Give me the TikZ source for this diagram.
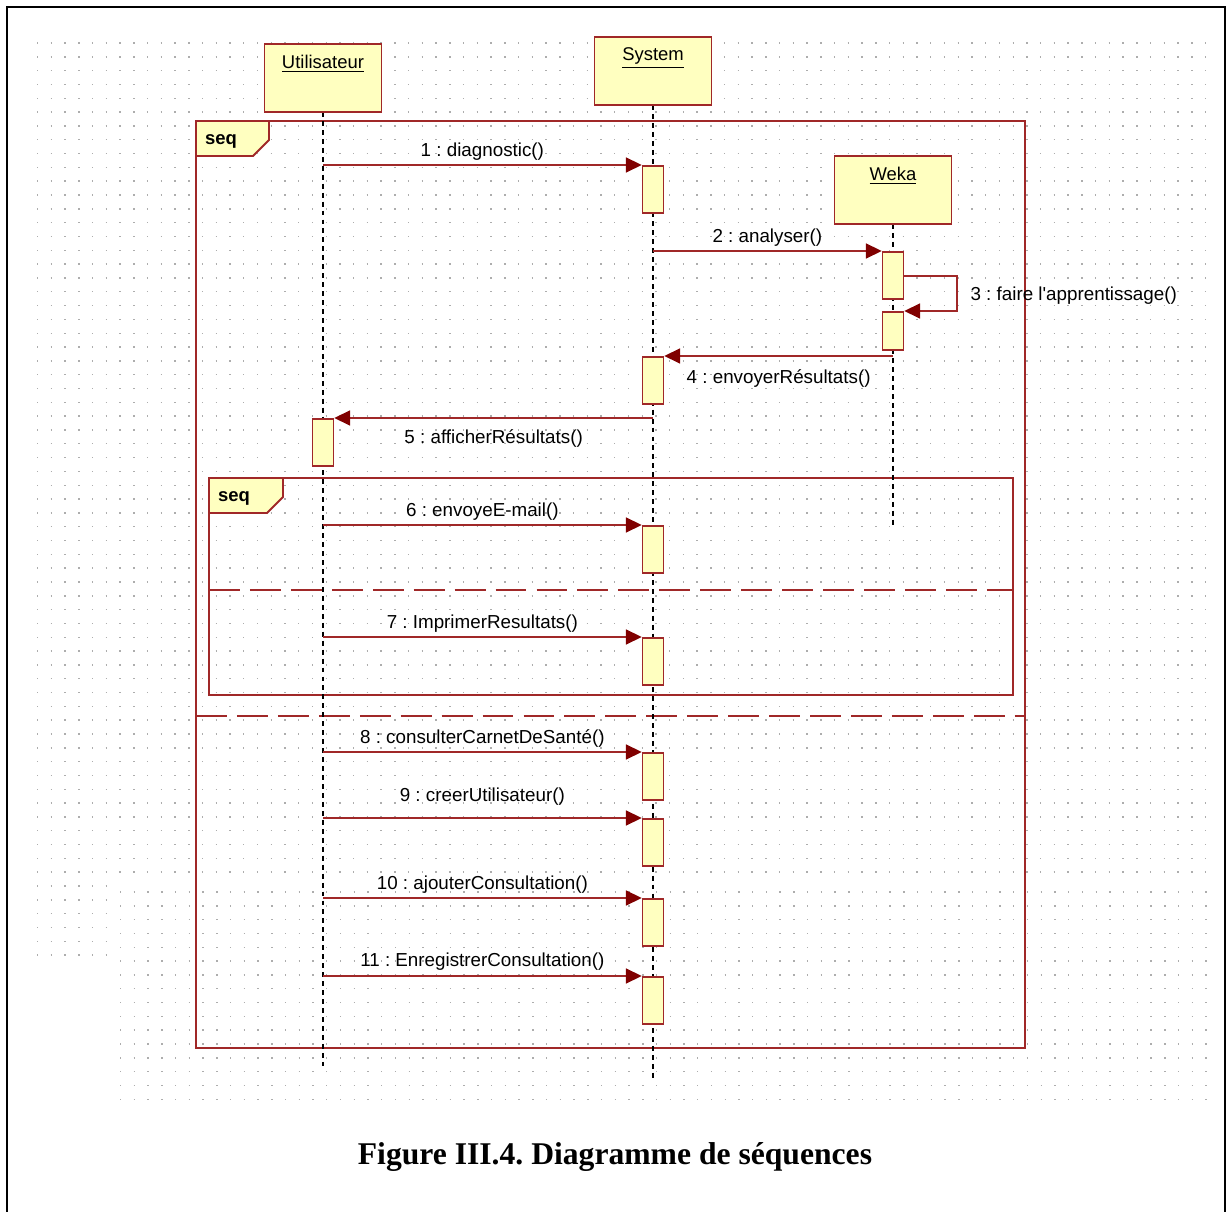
\documentclass[tikz,border=0pt]{standalone}
\usepackage{fontspec}
\setmainfont{Liberation Sans}
\newfontfamily\capfont{Liberation Serif}
\usetikzlibrary{arrows.meta}
\frenchspacing
\definecolor{umlline}{RGB}{160,40,40}
\definecolor{umlhead}{RGB}{128,0,0}
\definecolor{umlfill}{RGB}{255,255,192}
\tikzset{
  actorbox/.style={draw=umlline,fill=umlfill,line width=1.1pt,minimum width=2.34cm,minimum height=1.36cm,inner sep=0pt},
  actorlbl/.style={inner sep=0pt,font=\fontsize{10.5}{12}\selectfont},
  actbar/.style={draw=umlline,fill=umlfill,line width=0.9pt,minimum width=0.42cm,minimum height=0.94cm,inner sep=0pt,anchor=north},
  msgline/.style={draw=umlline,line width=1.1pt,-{Triangle[length=9pt,width=8.5pt,color=umlhead]}},
  msglbl/.style={inner sep=2pt,font=\fontsize{10.7}{12}\selectfont},
  framebox/.style={draw=umlline,line width=1.1pt},
  seqtab/.style={draw=umlline,fill=umlfill,line width=1.1pt},
  tablbl/.style={inner sep=0pt,font=\fontsize{10.5}{12}\selectfont\bfseries},
  lifeline/.style={black,line width=0.8pt,dash pattern=on 2.8pt off 2.3pt},
  sepline/.style={draw=umlline,line width=1.1pt,dash pattern=on 17.6pt off 5.7pt},
  griddots/.style={black!32,line width=0.8pt,dash pattern=on 0.8pt off 7.02pt},
  every picture/.style={line join=miter}
}

\begin{document}
\begin{tikzpicture}[x=0.02cm,y=-0.02cm]
  \useasboundingbox (0,0) rectangle (1231,1212);
  % grid of the modeller
  \foreach \k in {0,...,60}
    \draw[griddots] (37,{43+13.82*\k}) -- (1208,{43+13.82*\k});
  \foreach \k in {61,...,66}
    \draw[griddots] (37,{43+13.82*\k}) -- (110,{43+13.82*\k});
  \foreach \k in {0,...,15}
    \draw[griddots] (120,{892+13.82*\k}) -- (1208,{892+13.82*\k});
  \draw[line width=1.2pt] (7,1212) -- (7,7) -- (1225,7) -- (1225,1212);

  % frames
  \draw[framebox] (196,121) rectangle (1025,1048);
  \draw[seqtab] (196,121) -- (269,121) -- (269,140) -- (253,156) -- (196,156) -- cycle;
  \node[tablbl] (seqa) at (221,141) {seq};
  \draw[framebox] (209,478) rectangle (1013,695);
  \draw[seqtab] (209,478) -- (283,478) -- (283,497) -- (267,513) -- (209,513) -- cycle;
  \node[tablbl] (seqb) at (234,498) {seq};
  \draw[sepline] (209,590) -- (1013,590);
  \draw[sepline] (196,716) -- (1025,716);

  % lifelines
  \coordinate (userend) at (323,1066);
  \coordinate (sysend) at (653,1080);
  \coordinate (wekaend) at (893,525);
  \draw[lifeline] (323,112) -- (userend);
  \draw[lifeline] (653,105) -- (sysend);
  \draw[lifeline] (893,224) -- (wekaend);

  % objects
  \node[actorbox] (user) at (323,78) {};
  \node[actorlbl] (userlbl) at (323,64) {\underline{Utilisateur}};
  \node[actorbox] (sys) at (653,71) {};
  \node[actorlbl] (syslbl) at (653,58) {\underline{System}};
  \node[actorbox] (weka) at (893,190) {};
  \node[actorlbl] (wekalbl) at (893,176) {\underline{Weka}};

  % activations
  \node[actbar] (a1) at (653,165) {};
  \node[actbar] (a2) at (893,251) {};
  \node[actbar,minimum height=0.76cm] (a3) at (893,311) {};
  \node[actbar] (a4) at (653,356) {};
  \node[actbar] (a5) at (323,418) {};
  \node[actbar] (a6) at (653,525) {};
  \node[actbar] (a7) at (653,637) {};
  \node[actbar] (a8) at (653,752) {};
  \node[actbar] (a9) at (653,818) {};
  \node[actbar] (a10) at (653,898) {};
  \node[actbar] (a11) at (653,976) {};

  % messages
  \draw[msgline] (a1.north west -| user) -- node[msglbl,above=0pt] {1 : diagnostic()} (a1.north west);
  \draw[msgline] (a2.north west -| sys) -- node[msglbl,above=0pt] {2 : analyser()} (a2.north west);
  \draw[msgline] ([yshift=-0.5cm]a2.north east) -- ++(53,0)
    |- node[msglbl,right=5pt,pos=0.28] {3 : faire l\textquotesingle apprentissage()} (a3.north east);
  \draw[msgline] (a4.north east -| weka) -- node[msglbl,below=5pt] {4 : envoyerRésultats()} (a4.north east);
  \draw[msgline] (a5.north east -| sys) -- node[msglbl,below=4pt] {5 : afficherRésultats()} (a5.north east);
  \draw[msgline] (a6.north west -| user) -- node[msglbl,above=0pt] {6 : envoyeE-mail()} (a6.north west);
  \draw[msgline] (a7.north west -| user) -- node[msglbl,above=0pt] {7 : ImprimerResultats()} (a7.north west);
  \draw[msgline] (a8.north west -| user) -- node[msglbl,above=0pt] {8 : consulterCarnetDeSanté()} (a8.north west);
  \draw[msgline] (a9.north west -| user) -- node[msglbl,above=4.5pt] {9 : creerUtilisateur()} (a9.north west);
  \draw[msgline] (a10.north west -| user) -- node[msglbl,above=0pt] {10 : ajouterConsultation()} (a10.north west);
  \draw[msgline] (a11.north west -| user) -- node[msglbl,above=0.5pt] {11 : EnregistrerConsultation()} (a11.north west);

  \node[font=\capfont\bfseries\fontsize{18}{20}\selectfont] (cap) at (615,1157) {Figure III.4. Diagramme de séquences};
\end{tikzpicture}
\end{document}
